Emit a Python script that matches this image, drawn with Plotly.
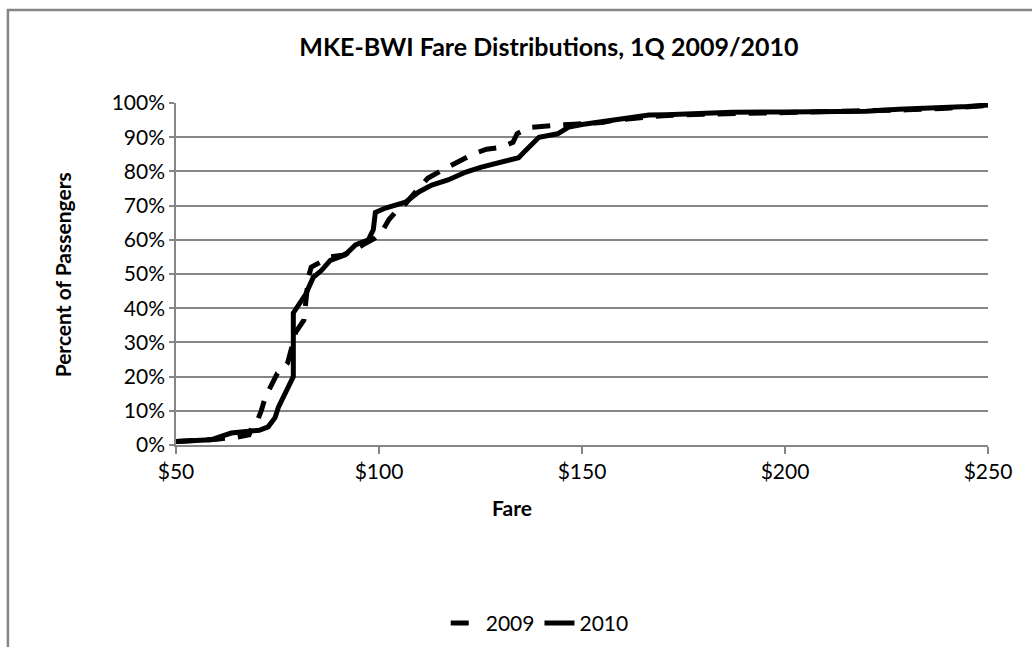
import plotly.graph_objects as go

# ---- data ----
fare_2009 = [50, 55, 60, 65, 68, 69, 70, 71, 72, 73.5, 75, 76.5, 77.5, 78.4, 79.5, 81.5, 82, 82.6, 83.3,
             85, 88, 91, 94, 96, 97.5, 99, 100.5, 101.5, 102.5, 104, 106.5, 109, 112, 115, 119, 123,
             126.5, 130, 133, 134, 137, 141, 145, 148, 152, 155, 158, 162, 170, 180, 200, 220, 230,
             240, 245, 250]
pct_2009 = [1.0, 1.3, 1.7, 2.3, 3.0, 6.0, 7.0, 10.0, 14.0, 17.5, 21.0, 22.5, 24.0, 28.0, 33.0, 36.5, 42.0,
            49.0, 52.0, 53.0, 55.0, 55.5, 57.0, 58.5, 59.5, 60.5, 62.0, 64.0, 66.0, 68.0, 70.5, 74.0,
            78.0, 80.0, 82.5, 85.0, 86.5, 87.0, 88.5, 91.0, 92.8, 93.3, 93.6, 93.8, 94.0, 94.3, 95.0,
            95.5, 96.3, 96.7, 97.2, 97.6, 98.0, 98.5, 99.0, 99.3]

fare_2010 = [50, 54, 58.6, 63.6, 67.8, 70.5, 72.7, 74.4, 75.2, 76.9, 78.4, 78.9, 78.9, 80.1, 81.9, 83.8,
             85.8, 88.0, 91.7, 94.2, 97.4, 98.6, 99.1, 101.6, 104, 106.5, 109.8, 113, 117, 121.4,
             125, 129.5, 134.4, 136, 139.4, 144, 146.8, 150, 154, 160, 166.5, 170.7, 180, 187, 200,
             211.7, 220, 228, 235, 240.6, 245, 250]
pct_2010 = [1.0, 1.2, 1.5, 3.5, 3.8, 4.3, 5.3, 8.0, 11.0, 15.0, 19.0, 20.0, 38.6, 41.0, 44.0, 49.0,
            51.0, 54.0, 55.6, 58.5, 60.0, 63.0, 68.0, 69.3, 70.3, 71.0, 74.0, 76.0, 77.5, 79.8,
            81.2, 82.4, 84.0, 86.0, 90.0, 91.0, 93.0, 93.7, 94.4, 95.5, 96.5, 96.6, 97.0, 97.3,
            97.4, 97.5, 97.6, 98.2, 98.4, 98.8, 99.0, 99.4]

x_ticks = [50, 100, 150, 200, 250]
x_tick_labels = ["$50", "$100", "$150", "$200", "$250"]
y_ticks = [i / 10 for i in range(11)]
y_tick_labels = [f"{i * 10}%" for i in range(11)]

FONT = "Lato, 'Open Sans', sans-serif"
GRID = "#868686"

fig = go.Figure()
fig.add_trace(go.Scatter(
    x=fare_2009, y=[p / 100 for p in pct_2009], name="2009", mode="lines",
    line=dict(color="black", width=5, dash="18px,13px"),
))
fig.add_trace(go.Scatter(
    x=fare_2010, y=[p / 100 for p in pct_2010], name="2010", mode="lines",
    line=dict(color="black", width=5),
))

fig.update_layout(
    width=1032, height=647, autosize=False,
    margin=dict(l=176, r=44, t=103, b=202),
    paper_bgcolor="white", plot_bgcolor="white",
    font=dict(family=FONT, size=21, color="black"),
    title=dict(text="<b>MKE-BWI Fare Distributions, 1Q 2009/2010</b>",
               x=0.29, xanchor="left", y=0.927, yanchor="middle",
               font=dict(family=FONT, size=25, color="black")),
    showlegend=True,
    legend=dict(orientation="h", xref="container", yref="container",
                x=0.523, xanchor="center", y=0.005, yanchor="bottom",
                font=dict(size=21), bgcolor="rgba(0,0,0,0)"),
    xaxis=dict(range=[50, 250], tickvals=x_ticks, ticktext=x_tick_labels,
               showgrid=False, zeroline=False, showline=True, linecolor=GRID, linewidth=1.5,
               ticks="outside", ticklen=7, tickcolor=GRID, tickwidth=1.5,
               tickfont=dict(size=21)),
    yaxis=dict(range=[0, 1], tickvals=y_ticks, ticktext=y_tick_labels,
               showgrid=True, gridcolor=GRID, gridwidth=1.5, zeroline=False,
               showline=True, linecolor=GRID, linewidth=1.5,
               ticks="outside", ticklen=5, tickcolor=GRID, tickwidth=1.5,
               tickfont=dict(size=21)),
)

# axis titles
fig.add_annotation(text="<b>Fare</b>", xref="paper", yref="paper", x=0.414, y=-0.184,
                   showarrow=False, font=dict(size=21), xanchor="center", yanchor="middle")
fig.add_annotation(text="<b>Percent of Passengers</b>", xref="paper", yref="paper",
                   x=-0.14, y=0.497, textangle=-90, showarrow=False, font=dict(size=21),
                   xanchor="center", yanchor="middle")

# outer chart frame (partially cut off, as in the reference)
fig.add_shape(type="rect", xref="paper", yref="paper",
              x0=-0.207, y0=-0.9, x1=1.3, y1=1.272,
              line=dict(color=GRID, width=2.5), fillcolor="rgba(0,0,0,0)", layer="below")

fig.write_html("out.html",
               config={"responsive": False, "displayModeBar": False},
               post_script="document.body.style.margin='0';document.body.style.overflow='hidden';")
